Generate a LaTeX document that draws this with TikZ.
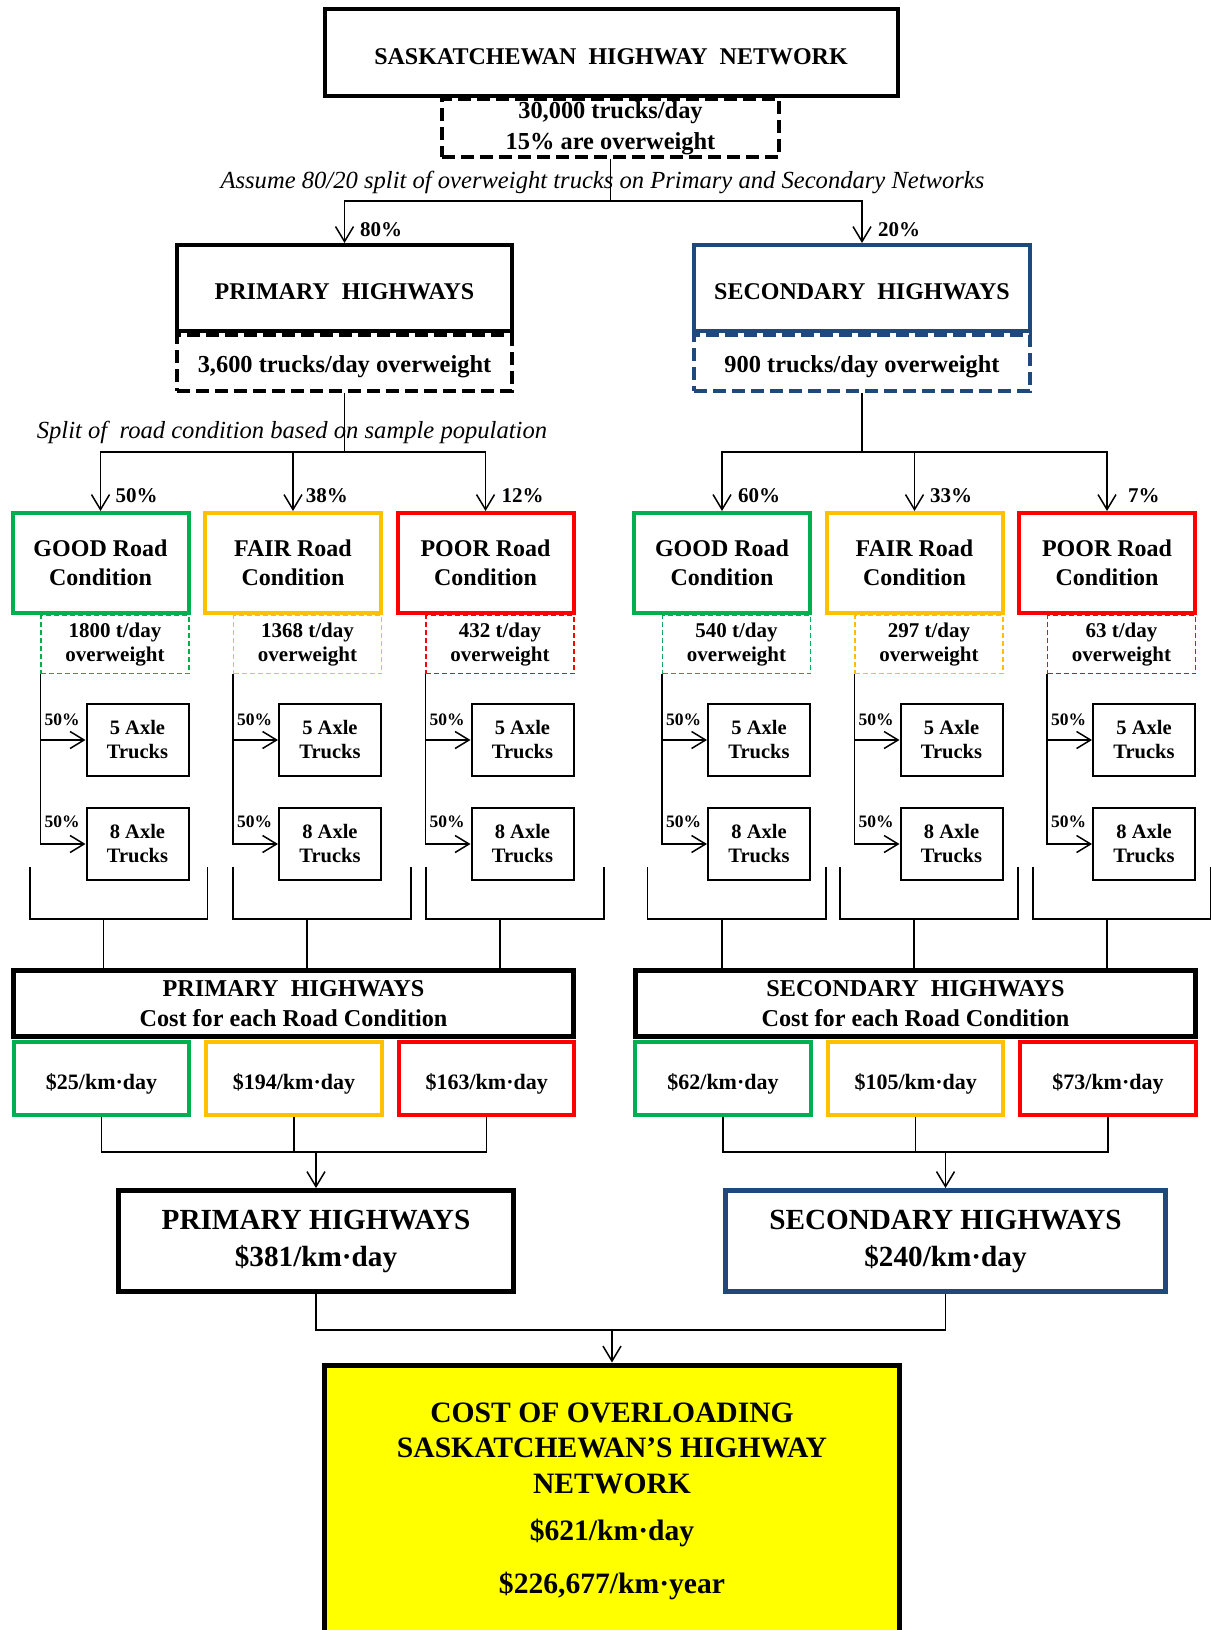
\documentclass[tikz,border=0pt]{standalone}
\usepackage{fontspec}
\setmainfont{Liberation Serif}
\usetikzlibrary{arrows.meta}
\definecolor{cgreen}{HTML}{00B050}
\definecolor{camber}{HTML}{FFC000}
\definecolor{cred}{HTML}{FF0000}
\definecolor{cnavy}{HTML}{1F497D}
\definecolor{cyel}{HTML}{FFFF00}
\tikzset{
  conn/.style={line width=1.5pt},
  arr/.style={conn, -{Straight Barb[length=15pt,width=18pt]}},
  sarr/.style={conn, -{Straight Barb[length=14pt,width=17pt]}},
  headbox/.style={draw, line width=4pt, inner sep=0pt, align=center, font=\fontsize{24}{28}\selectfont\bfseries, execute at begin node={\rule{0pt}{23.5pt}}},
  bigdash/.style={draw, line width=4pt, dash pattern=on 13pt off 6pt, inner sep=0pt, align=center, font=\fontsize{24.4}{31}\selectfont\bfseries, execute at begin node={\rule{0pt}{24.5pt}}},
  note/.style={inner sep=0pt, font=\fontsize{24.6}{28}\selectfont\itshape},
  pct/.style={inner sep=0pt, anchor=west, font=\fontsize{21}{24}\selectfont\bfseries},
  spct/.style={inner sep=0pt, anchor=west, font=\fontsize{17.5}{19}\selectfont\bfseries},
  condbox/.style={draw, line width=4pt, minimum width=176pt, minimum height=100pt, inner sep=0pt, align=center, font=\fontsize{24}{29}\selectfont\bfseries, execute at begin node={\rule{0pt}{20.3pt}}},
  subdash/.style={draw, line width=1.3pt, dash pattern=on 5pt off 3pt, minimum width=148pt, minimum height=58pt, inner sep=0pt, align=center, font=\fontsize{21}{24}\selectfont\bfseries, execute at begin node={\rule{0pt}{18.5pt}}},
  axlebox/.style={draw, line width=2pt, minimum width=102pt, minimum height=72pt, inner sep=0pt, align=center, font=\fontsize{20.5}{24}\selectfont\bfseries},
  costhead/.style={draw, line width=5pt, minimum width=560pt, minimum height=66pt, inner sep=0pt, align=center, font=\fontsize{24.2}{30}\selectfont\bfseries, execute at begin node={\rule{0pt}{20pt}}},
  costbox/.style={draw, line width=4pt, minimum width=175.5pt, minimum height=73pt, inner sep=0pt, font=\fontsize{22}{25}\selectfont\bfseries, execute at begin node={\rule{0pt}{26.5pt}}},
  totbox/.style={draw, line width=5pt, minimum height=101pt, inner sep=0pt, align=center, font=\fontsize{29.2}{37}\selectfont\bfseries, execute at begin node={\rule{0pt}{31.3pt}}},
  finalbox/.style={draw, line width=5pt, fill=cyel, minimum width=575pt, minimum height=272pt, inner sep=0pt, align=center, font=\fontsize{29.6}{35.5}\selectfont\bfseries},
}
\begin{document}
\begin{tikzpicture}[x=1pt,y=-1pt]
\useasboundingbox (0,0) rectangle (1210,1630);
\fill[white] (0,0) rectangle (1210,1630);

% top
\node[bigdash, minimum width=337pt, minimum height=58pt, execute at begin node={\rule{0pt}{20.5pt}}] (trucks) at (610.5,128) {30,000 trucks/day\\15\% are overweight};
\node[headbox, minimum width=573pt, minimum height=87pt] (net) at (611,52.5) {SASKATCHEWAN\ \ HIGHWAY\ \ NETWORK};
\node[note] (assume) at (602.5,182) {Assume 80/20 split of overweight trucks on Primary and Secondary Networks};

% primary / secondary heads
\node[bigdash, minimum width=335pt, minimum height=56pt] (primd) at (344.5,363) {3,600 trucks/day overweight};
\node[headbox, minimum width=335pt, minimum height=86pt] (prim) at (344.5,288) {PRIMARY\ \ HIGHWAYS};
\node[bigdash, draw=cnavy, minimum width=336pt, minimum height=56pt] (secd) at (862,363) {900 trucks/day overweight};
\node[headbox, draw=cnavy, minimum width=336pt, minimum height=86pt] (sec) at (862,288) {SECONDARY\ \ HIGHWAYS};

\coordinate (j1) at (610.5,201);
\draw[conn] (trucks.south) -- (j1);
\draw[arr] (j1) -| (prim.north);
\draw[arr] (j1) -| (sec.north);
\node[pct] (p80) at (360,230) {80\%};
\node[pct] (p20) at (878,230) {20\%};

\node[note] (split) at (292,432) {Split of\ \ road condition based on sample population};
\coordinate (j2) at (344.5,452);
\coordinate (j3) at (862,452);
\draw[conn] (primd.south) -- (j2);
\draw[conn] (secd.south) -- (j3);

% cost heads
\node[costhead] (pcost) at (293.5,1003.5) {PRIMARY\ \ HIGHWAYS\\Cost for each Road Condition};
\node[costhead] (scost) at (915.5,1003.5) {SECONDARY\ \ HIGHWAYS\\Cost for each Road Condition};

% condition columns
\foreach \id/\L/\col/\cn/\pc/\px/\ta/\bl/\br/\sx/\jn/\hd in {
  pg/10.5/cgreen/GOOD/50\%/115.5/{1800 t/day}/30/207.5/103.6/j2/pcost,
  pf/203/camber/FAIR/38\%/305.6/{1368 t/day}/233/411/307/j2/pcost,
  pp/395.5/cred/POOR/12\%/501.5/{432 t/day}/426/604/500/j2/pcost,
  sg/632/cgreen/GOOD/60\%/738/{540 t/day}/647.5/826/722/j3/scost,
  sf/824.5/camber/FAIR/33\%/930/{297 t/day}/840/1018/914/j3/scost,
  sp/1017/cred/POOR/7\%/1128/{63 t/day}/1033/1211/1107/j3/scost}{
  \node[subdash, draw=\col] (\id-d) at (\L+104.5,644.5) {\ta\\overweight};
  \node[condbox, draw=\col] (\id-c) at (\L+90,563) {\cn\ Road\\Condition};
  \node[axlebox] (\id-5) at (\L+127,740) {5 Axle\\Trucks};
  \node[axlebox] (\id-8) at (\L+127,844) {8 Axle\\Trucks};
  \draw[arr] (\jn) -| (\id-c.north);
  \node[pct] (\id-p) at (\px,496) {\pc};
  \draw[sarr] (\id-d.south west) |- (\id-5.west);
  \draw[sarr] (\id-d.south west) |- (\id-8.west);
  \node[spct] (\id-s5) at (\L+34,720) {50\%};
  \node[spct] (\id-s8) at (\L+34,822) {50\%};
  \draw[conn] (\bl,867) |- (\br,919) -- (\br,867);
  \coordinate (\id-b) at (\sx,919);
  \draw[conn] (\id-b) -- (\id-b |- \hd.north);
}

% cost values
\foreach \id/\cx/\col/\val in {
  pc1/101.6/cgreen/{\$25/km·day},
  pc2/294/camber/{\$194/km·day},
  pc3/486.7/cred/{\$163/km·day},
  sc1/723/cgreen/{\$62/km·day},
  sc2/915.7/camber/{\$105/km·day},
  sc3/1108/cred/{\$73/km·day}}{
  \node[costbox, draw=\col] (\id) at (\cx,1078.5) {\val};
}

% totals
\node[totbox, minimum width=395pt] (ptot) at (316,1241) {PRIMARY HIGHWAYS\\\$381/km·day};
\node[totbox, draw=cnavy, minimum width=440pt] (stot) at (945.5,1241) {SECONDARY HIGHWAYS\\\$240/km·day};

\coordinate (jp) at (316,1152);
\draw[conn] (pc1.south) |- (jp);
\draw[conn] (pc3.south) |- (jp);
\draw[conn] (pc2.south) -- (pc2.south |- jp);
\draw[arr] (jp) -- (ptot.north);

\coordinate (js) at (945.5,1152);
\draw[conn] (sc1.south) |- (js);
\draw[conn] (sc3.south) |- (js);
\draw[conn] (sc2.south) -- (sc2.south |- js);
\draw[arr] (js) -- (stot.north);

% final
\node[finalbox] (final) at (612,1501) {COST OF OVERLOADING\\SASKATCHEWAN’S HIGHWAY\\NETWORK\\[12pt]\$621/km·day\\[17pt]\$226,677/km·year};
\coordinate (jf) at (612,1330);
\draw[conn] (ptot.south) |- (jf);
\draw[conn] (stot.south) |- (jf);
\draw[arr] (jf) -- (final.north);
\end{tikzpicture}
\end{document}
